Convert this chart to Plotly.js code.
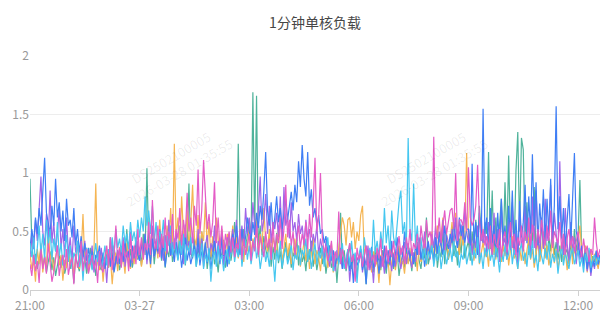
<!DOCTYPE html>
<html>
<head>
<meta charset="utf-8">
<script src="https://cdn.plot.ly/plotly-3.0.1.min.js"></script>
<style>html,body{margin:0;padding:0;background:#fff;}#chart{width:600px;height:319px;}</style>
</head>
<body>
<div id="chart"></div>
<script>
// Sampling: one value every 3 minutes from 2026-03-26 21:00
var startTime = '2026-03-26T21:00:00Z';
var stepMinutes = 3;

var seriesNames = ['core-1', 'core-2', 'core-3', 'core-4', 'core-5', 'core-6'];

var green = [
.95,.40,.22,.31,.18,.27,.35,.20,.29,.15,
.24,.33,.17,.28,.12,.22,.30,.19,.26,.14,
.21,.35,.18,.25,.06,.29,.23,.16,.31,.20,
.27,.14,.22,.36,.18,.25,.12,.30,.21,.17,
.28,.24,.33,.19,.45,.26,.38,.22,.31,.17,
.25,.40,.29,.52,.23,.35,.19,.28,.42,.26,
.34,.21,.48,.30,1.04,.36,.27,.45,.22,.38,
.31,.50,.25,.43,.19,.35,.28,.47,.24,.33,
.40,.26,.55,.30,.45,.21,.38,.91,.32,.27,
.44,.20,.36,.29,.50,.24,.41,.18,.33,.26,
.39,.22,.30,.15,.35,.27,.43,.19,.31,.48,
.25,.37,.58,.33,1.25,.40,.29,.52,.36,.47,
.61,.42,1.69,.50,1.66,.38,.55,.30,.46,.35,
.28,.44,.20,.37,.26,.49,.23,.33,.18,.30,
.41,.25,.36,.19,.32,.27,.45,.21,.38,.24,
.30,.16,.35,.26,.42,.20,.31,.17,.28,.36,
.22,.33,.14,.27,.38,.19,.25,.31,.06,.29,
.66,.21,.34,.16,.26,.40,.18,.30,.23,.13,
.28,.35,.19,.24,.05,.32,.20,.27,.15,.37,
.22,.29,.17,.34,.25,.14,.31,.21,.38,.18,
.26,.33,.12,.24,.30,.19,.36,.23,.28,.16,
.32,.20,.41,.25,.18,.35,.27,.62,.22,.30,
.37,.24,.45,.19,.33,.28,.51,.22,.40,.26,
.34,.48,.29,.38,.21,.44,.31,.55,.27,.36,
.42,.25,.50,.33,.60,.37,.72,.45,.40,.58,
.48,1.18,.35,.85,.30,.62,.28,.55,.78,.33,
.92,.40,1.15,.45,.70,.32,1.02,1.35,.50,1.30,
1.20,.42,.75,.30,.60,.38,.88,.28,.55,.25,
.58,.36,.50,.28,.45,.33,.55,.30,.41,.26,
.38,.24,.47,.31,.35,.22,.40,.28,.52,.33,
.45,.94,.30,.25,.36,.21,.32,.18,.29,.24,
.33,.20,.27];

var orange = [
.30,.18,.25,.07,.35,.22,.40,.15,.28,.20,
.55,.24,.33,.16,.27,.38,.21,.30,.08,.26,
.19,.34,.22,.29,.14,.25,.42,.18,.31,.65,
.23,.36,.15,.27,.20,.33,.91,.24,.17,.30,
.07,.26,.35,.19,.28,.05,.24,.32,.16,.37,
.21,.29,.14,.40,.25,.18,.33,.22,.45,.27,
.36,.20,.30,.48,.26,.38,.19,.52,.31,.42,
.27,.60,.35,.46,.23,.55,.38,.70,.33,1.25,
.44,.62,.36,.80,.48,.40,.68,.35,.57,.90,
.45,.38,.64,.30,.50,.42,.75,.36,.58,.28,
.46,.33,.62,.40,.25,.52,.37,.30,.48,.22,
.40,.55,.31,.45,.27,.36,.50,.24,.42,.33,
.57,.30,.44,.38,.65,.28,.48,.35,.70,.41,
.33,.52,.26,.45,.38,.30,.55,.42,.25,.36,
.48,.29,.40,.22,.35,.44,.27,.38,.20,.32,
.41,.25,.36,.18,.30,.45,.22,.34,.28,.16,
.33,.24,.38,.19,.27,.40,.15,.30,.22,.35,
.48,.62,.55,.38,.60,.62,.45,.58,.35,.50,
.42,.64,.72,.30,.38,.22,.28,.15,.33,.20,
.26,.06,.30,.21,.35,.18,.27,.04,.24,.32,
.17,.28,.38,.20,.25,.14,.31,.22,.36,.19,
.27,.33,.16,.40,.24,.30,.45,.21,.35,.28,
.50,.26,.38,.55,.30,.44,.62,.33,.48,.27,
.40,.58,.35,.66,.42,.30,.52,.38,.45,1.17,
.48,.32,.40,.25,.36,.45,.22,.33,.41,.28,
.35,.20,.44,.30,.38,.26,.50,.32,.24,.39,
.29,.43,.21,.34,.46,.27,.31,.18,.36,.25,
.40,.22,.32,.45,.26,.35,.19,.30,.42,.24,
.33,.50,.27,.38,.21,.30,.44,.23,.35,.18,
.28,.40,.25,.34,.17,.31,.45,.22,.36,.27,
.42,.55,.33,.24,.38,.15,.29,.35,.20,.31,
.26,.18,.30];

var purple = [
.28,.45,.35,.60,.42,.72,.97,.50,.38,.65,
.44,.85,.40,.58,.33,.48,.70,.36,.52,.28,
.62,.30,.45,.25,.55,.32,.40,.20,.35,.26,
.42,.18,.30,.24,.38,.15,.27,.33,.21,.36,
.19,.28,.06,.31,.24,.40,.17,.29,.22,.35,
.26,.45,.20,.33,.28,.50,.23,.37,.30,.42,
.25,.38,.32,.48,.22,.40,.35,.55,.28,.44,
.31,.52,.36,.25,.47,.33,.60,.29,.41,.35,
.50,.27,.38,.45,.22,.56,.34,.42,.30,.48,
.36,.25,.52,.31,.44,.20,.38,.47,.26,.40,
.33,.55,.24,.42,.30,.48,.21,.37,.45,.28,
.40,.52,.35,.60,.30,.45,.55,.38,.70,.48,
.62,.42,.75,.55,.45,.68,.97,.50,.60,.82,
.48,.72,.40,.58,.52,.66,.45,.80,.38,.88,
.55,.62,.44,.75,.50,.58,.42,.65,.48,.55,
.38,.60,.45,.52,.33,.48,.40,.55,.30,.44,
.36,.25,.42,.30,.20,.35,.28,.16,.32,.24,
.30,.18,.27,.22,.35,.07,.26,.31,.19,.28,
.23,.34,.15,.29,.21,.38,.17,.26,.06,.30,
.24,.33,.19,.28,.14,.36,.22,.27,.16,.31,
.20,.35,.25,.18,.30,.41,.22,.34,.27,.19,
.32,.24,.38,.45,.28,.35,.50,.30,.42,.26,
.48,.36,.55,.31,.44,.38,.60,.33,.47,.40,
.35,.52,.41,.62,.37,.48,.56,.43,.68,.50,
.40,.52,.30,.48,.36,.55,.28,.62,.40,.50,
.32,.58,.40,.28,.66,.35,.52,.24,.70,.38,
.45,.26,.60,.34,.75,.30,.50,.22,.68,.40,
.33,.72,.45,.58,.28,.80,.36,.85,.44,.30,
.62,.35,.78,.42,.55,.90,.38,.66,.48,.32,
1.10,.46,.30,.70,.40,.25,.58,.33,.45,.22,
.40,.26,.35,.20,.31,.16,.28,.12,.25,.18,
.34,.22,.30];

var blue = [
.35,.52,.40,.62,.48,.70,.55,.80,1.13,.66,
.58,.48,.72,.55,.95,.62,.75,.50,.68,.42,
.78,.55,.60,.45,.70,.38,.52,.32,.46,.28,
.40,.25,.36,.22,.33,.19,.30,.27,.38,.21,
.32,.18,.28,.35,.20,.30,.15,.26,.34,.22,
.36,.24,.42,.28,.33,.20,.38,.27,.45,.30,
.25,.40,.31,.48,.26,.36,.22,.44,.29,.38,
.33,.50,.27,.42,.20,.35,.46,.30,.38,.24,
.41,.28,.36,.19,.32,.45,.25,.34,.22,.30,
.38,.26,.44,.21,.33,.28,.40,.23,.35,.18,
.30,.42,.26,.37,.22,.45,.29,.34,.20,.38,
.31,.48,.36,.55,.40,.30,.52,.38,.45,.62,
.50,.42,.58,.47,.66,.53,.72,.60,.85,1.18,
.68,.55,.75,.48,.62,.80,.58,.70,.52,.65,
.78,.60,.72,.84,.68,.90,.75,1.10,.88,1.24,
.95,.80,1.18,.72,.86,.62,.70,.55,.64,.48,
.52,.40,.46,.32,.38,.25,.34,.20,.30,.24,
.36,.18,.28,.22,.33,.16,.27,.06,.30,.21,
.25,.35,.17,.28,.05,.31,.23,.37,.19,.26,
.32,.14,.29,.22,.38,.18,.34,.25,.42,.20,
.30,.45,.24,.36,.28,.50,.33,.40,.27,.35,
.22,.38,.30,.44,.26,.35,.20,.32,.41,.28,
.36,.25,.45,.31,.50,.38,.30,.55,.42,.35,
.48,.40,.58,.44,.36,.62,.46,.55,.40,.52,
.52,.36,1.08,.40,.58,.30,.66,.42,1.55,.48,
.62,.35,.70,.40,.55,.28,.66,.38,.78,.42,
.55,.30,.72,.44,.85,.36,.60,.32,.76,.45,
.58,.90,.40,.80,.48,1.16,.55,.92,.38,.74,
.50,.86,.42,.78,.46,.95,.40,.72,1.57,.52,
.80,.44,.70,.36,.62,.82,.40,.88,1.17,.50,
.42,.30,.38,.22,.35,.18,.30,.15,.26,.20,
.33,.22,.30];

var cyan = [
.40,.28,.45,.22,.36,.55,.30,.48,.25,.60,
.38,.52,.26,.44,.33,.58,.29,.40,.21,.35,
.47,.24,.38,.18,.32,.27,.42,.20,.34,.08,
.29,.36,.22,.31,.17,.28,.40,.24,.33,.19,
.26,.38,.21,.35,.28,.45,.30,.52,.36,.44,
.32,.55,.40,.48,.35,.58,.42,.50,.38,.60,
.45,.62,.50,.80,.55,.68,.48,.72,.40,.58,
.35,.50,.42,.60,.33,.46,.38,.55,.30,.44,
.36,.25,.42,.30,.48,.22,.38,.33,.45,.28,
.35,.20,.31,.26,.40,.18,.30,.24,.36,.07,
.27,.33,.20,.38,.25,.30,.16,.28,.35,.22,
.31,.40,.24,.36,.28,.45,.20,.34,.42,.26,
.38,.22,.33,.45,.27,.36,.18,.30,.40,.24,
.32,.20,.37,.28,.07,.34,.25,.42,.19,.30,
.36,.22,.28,.40,.17,.32,.26,.38,.21,.34,
.29,.44,.24,.35,.18,.30,.40,.22,.33,.27,
.38,.20,.31,.45,.25,.36,.16,.28,.34,.22,
.30,.40,.18,.27,.35,.21,.42,.25,.32,.06,
.28,.38,.22,.45,.30,.19,.36,.26,.60,.32,
.42,.28,.50,.35,.70,.40,.55,.30,.68,.45,
.38,.60,.75,.85,.48,.58,.36,1.30,.52,.42,
.91,.38,.55,.30,.45,.26,.36,.22,.33,.28,
.40,.20,.31,.25,.38,.18,.29,.34,.22,.30,
.36,.24,.42,.28,.33,.19,.31,.26,.40,.22,
.30,.38,.21,.34,.27,.45,.23,.32,.18,.36,
.28,.40,.25,.33,.20,.37,.30,.15,.34,.24,
.39,.26,.31,.45,.22,.35,.28,.18,.33,.40,
.25,.32,.20,.38,.27,.42,.23,.30,.16,.35,
.29,.22,.36,.26,.40,.19,.31,.24,.34,.14,
.28,.38,.21,.32,.25,.18,.30,.36,.22,.27,
.34,.20,.28,.15,.31,.24,.36,.19,.26,.30,
.21,.28,.25];

var pink = [
.22,.12,.30,.16,.25,.06,.35,.18,.28,.14,
.40,.20,.07,.15,.26,.38,.12,.24,.30,.17,
.35,.13,.22,.28,.05,.31,.19,.25,.42,.16,
.27,.35,.14,.22,.30,.18,.26,.06,.33,.20,
.15,.28,.38,.21,.45,.17,.30,.55,.24,.36,
.19,.42,.28,.33,.16,.48,.25,.38,.22,.52,
.30,.45,.26,.40,.34,.58,.30,.77,.42,.35,
.55,.28,.48,.36,.62,.31,.50,.40,.65,.35,
.52,.44,.70,.38,.60,.45,.83,.50,.62,.40,
.72,.55,1.03,.48,.68,1.11,.80,.52,.65,.45,
.58,.92,.40,.62,.35,.55,.30,.48,.38,.50,
.32,.45,.28,.40,.35,.52,.26,.44,.30,.38,
.48,.25,.42,.33,.55,.30,.46,.38,.28,.50,
.36,.44,.26,.58,.32,.48,.40,.62,.35,.52,
.90,.45,.60,.38,.50,.30,.44,.55,.36,.48,
.40,.58,.35,.65,.45,.72,1.13,.50,.62,1.00,
.45,.32,.38,.25,.30,.42,.20,.33,.27,.67,
.22,.35,.28,.18,.31,.40,.24,.30,.07,.36,
.26,.32,.20,.28,.38,.17,.34,.25,.30,.21,
.36,.27,.44,.20,.31,.38,.24,.35,.28,.42,
.25,.33,.46,.30,.38,.22,.45,.34,.52,.29,
.40,.35,.48,.30,.55,.42,.36,.60,.45,.50,
.38,1.31,.52,.44,.62,.40,.55,.68,.48,.58,
.68,.70,.52,1.00,.42,.60,.60,.55,.75,.50,
1.05,.62,.55,.60,.72,1.07,.60,.42,.52,.38,
.46,.35,.55,.30,.48,.40,.36,.52,.28,.44,
.50,.32,.42,.58,.36,.48,.30,.45,.38,.55,
.34,.50,.42,.62,.38,.56,.44,.35,.52,.40,
.60,.46,.38,.55,.42,.68,.36,.50,.45,.40,
.58,.35,.48,.30,.44,.52,.38,.46,.33,.42,
.50,.36,.28,.44,.32,.38,.24,.35,.30,.62,
.40,.28,.35];

var xTickVals = ['2026-03-26 21:00','2026-03-27 00:00','2026-03-27 03:00','2026-03-27 06:00','2026-03-27 09:00','2026-03-27 12:00'];
var xTickText = ['21:00','03-27','03:00','06:00','09:00','12:00'];
var yTickVals = [0, 0.5, 1, 1.5, 2];
var yTickText = ['0', '0.5', '1', '1.5', '2'];

function pad(n){ return (n < 10 ? '0' : '') + n; }
function timeAt(i){
  var d = new Date(Date.parse(startTime) + i * stepMinutes * 60000);
  return d.getUTCFullYear() + '-' + pad(d.getUTCMonth()+1) + '-' + pad(d.getUTCDate()) + ' ' + pad(d.getUTCHours()) + ':' + pad(d.getUTCMinutes());
}
function times(arr){ return arr.map(function(_, i){ return timeAt(i); }); }

var seriesData = [green, orange, purple, blue, cyan, pink];
var colors = ['#4fb39b', '#f5b553', '#a066e8', '#3f7ef5', '#45c7f0', '#e45cc6'];

var traces = seriesData.map(function(vals, k){
  return {
    type: 'scatter', mode: 'lines', name: seriesNames[k],
    x: times(vals), y: vals,
    line: {color: colors[k], width: 1.2}, hoverinfo: 'x+y'
  };
});

var wmText = 'DS2502100005<br>2026-03-28 01:35:55';
var layout = {
  width: 600, height: 319,
  margin: {l: 30, r: 0, t: 56, b: 29},
  paper_bgcolor: '#fff', plot_bgcolor: '#fff',
  showlegend: false,
  font: {family: 'Noto Sans CJK SC, Noto Sans, sans-serif', color: '#999', size: 12},
  title: {text: '1分钟单核负载', font: {size: 14, color: '#464646', family: 'Noto Sans CJK SC, sans-serif'},
          x: 0.5, xref: 'paper', xanchor: 'center', y: 0.928, yref: 'container', yanchor: 'middle'},
  xaxis: {
    type: 'date', range: ['2026-03-26 21:00', '2026-03-27 12:36'],
    tickmode: 'array', tickvals: xTickVals, ticktext: xTickText,
    showgrid: false, showline: true, linecolor: '#d0d0d0', linewidth: 1,
    ticks: 'outside', ticklen: 5, tickcolor: '#d0d0d0',
    tickfont: {color: '#999', size: 12}, zeroline: false, fixedrange: true
  },
  yaxis: {
    range: [0, 2], tickmode: 'array', tickvals: yTickVals, ticktext: yTickText,
    showgrid: true, gridcolor: '#ededed', zeroline: false, showline: false,
    ticks: '', tickfont: {color: '#999', size: 12}, fixedrange: true
  },
  annotations: [
    {text: wmText, xref: 'paper', yref: 'y', x: 0.254, y: 1.07, xanchor: 'center', yanchor: 'middle',
     showarrow: false, textangle: -30, font: {size: 13, color: 'rgba(0,0,0,0.08)'}},
    {text: wmText, xref: 'paper', yref: 'y', x: 0.702, y: 1.07, xanchor: 'center', yanchor: 'middle',
     showarrow: false, textangle: -30, font: {size: 13, color: 'rgba(0,0,0,0.08)'}}
  ]
};

Plotly.newPlot('chart', traces, layout, {displayModeBar: false, staticPlot: true});
</script>
</body>
</html>
